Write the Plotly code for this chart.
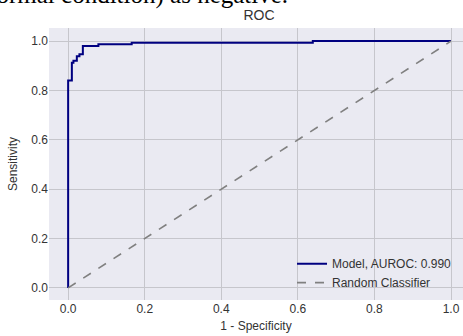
import plotly.graph_objects as go

# ROC curve (step corners)
fpr = [0.0, 0.0, 0.0097, 0.0097, 0.0138, 0.0138, 0.0227, 0.0227, 0.0295, 0.0295,
       0.0384, 0.0384, 0.079, 0.079, 0.166, 0.166, 0.639, 0.639, 1.0]
tpr = [0.0, 0.84, 0.84, 0.912, 0.912, 0.92, 0.92, 0.939, 0.939, 0.947,
       0.947, 0.98, 0.98, 0.987, 0.987, 0.993, 0.993, 1.0, 1.0]
rand_x = [0.0, 1.0]
rand_y = [0.0, 1.0]
auroc = 0.990
tick_vals = [0.0, 0.2, 0.4, 0.6, 0.8, 1.0]
tick_text = ["0.0", "0.2", "0.4", "0.6", "0.8", "1.0"]

font_sans = "Liberation Sans, Arial, sans-serif"
txt_col = "#333333"

fig = go.Figure()
fig.add_trace(go.Scatter(x=fpr, y=tpr, mode="lines",
                         line=dict(color="#000080", width=2),
                         name=f"Model, AUROC: {auroc:.3f}"))
fig.add_trace(go.Scatter(x=rand_x, y=rand_y, mode="lines",
                         line=dict(color="#808080", width=1.6, dash="dash"),
                         name="Random Classifier"))

axis_common = dict(showgrid=True, gridcolor="#c6c6cc", gridwidth=1,
                   zeroline=False, showline=False, ticks="", automargin=False,
                   tickvals=tick_vals, ticktext=tick_text,
                   tickfont=dict(family=font_sans, size=12, color=txt_col))

fig.update_layout(
    width=463, height=336, autosize=False,
    margin=dict(l=49, r=0, t=28, b=36, autoexpand=False),
    paper_bgcolor="white", plot_bgcolor="#EAEAF2",
    title=dict(text="ROC", x=(259 - 49) / 414, xref="paper", xanchor="center",
               y=1 - 15 / 336, yref="container", yanchor="middle",
               automargin=False,
               font=dict(family=font_sans, size=14, color=txt_col)),
    xaxis=dict(range=[-0.05, 1.0313],
               title=dict(text="1 - Specificity", standoff=6,
                          font=dict(family=font_sans, size=12, color=txt_col)),
               **axis_common),
    yaxis=dict(range=[-0.049, 1.053],
               title=dict(text="Sensitivity", standoff=11,
                          font=dict(family=font_sans, size=12, color=txt_col)),
               **axis_common),
    legend=dict(x=0.587, y=0.187, xanchor="left", yanchor="top",
                bgcolor="rgba(0,0,0,0)", borderwidth=0,
                font=dict(family=font_sans, size=12, color=txt_col)),
    showlegend=True,
)

fig.add_annotation(text="normal condition) as negative.",
                   xref="paper", yref="paper", x=(290 - 49) / 414, y=1 + 33 / 272,
                   xanchor="right", yanchor="middle", showarrow=False,
                   font=dict(family="Liberation Serif, Times New Roman, serif",
                             size=25, color="black"))

fig.write_html("out.html", config={"displayModeBar": False},
               post_script="document.body.style.margin='0px';document.body.style.overflow='hidden';")
